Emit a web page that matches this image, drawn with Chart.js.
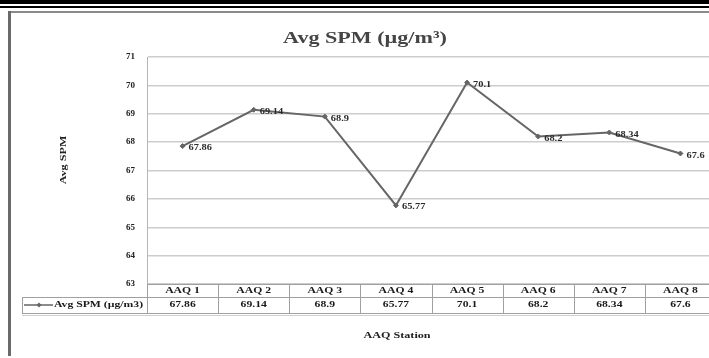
<!DOCTYPE html>
<html>
<head>
<meta charset="utf-8">
<script src="https://cdn.jsdelivr.net/npm/chart.js@4/dist/chart.umd.min.js"></script>
<style>
html,body{margin:0;padding:0;background:#fff;}
body{width:709px;height:358px;overflow:hidden;position:relative;}
#wrap{position:absolute;left:0;top:0;width:730px;height:358px;}
.bar{position:absolute;left:0;width:709px;background:#000;}
#frameTop{position:absolute;left:8px;top:11px;width:701px;height:2px;background:#8a8a8a;}
#frameLeft{position:absolute;left:8px;top:11px;width:3px;height:345px;background:#6a6a6a;}
</style>
</head>
<body>
<div id="wrap"><canvas id="c" width="730" height="358"></canvas></div>
<div class="bar" style="top:0;height:4px;"></div>
<div class="bar" style="top:6px;height:2px;"></div>
<div id="frameTop"></div>
<div id="frameLeft"></div>
<script>
const categories = ["AAQ 1","AAQ 2","AAQ 3","AAQ 4","AAQ 5","AAQ 6","AAQ 7","AAQ 8"];
const spmValues = [67.86, 69.14, 68.9, 65.77, 70.1, 68.2, 68.34, 67.6];
const valueLabels = ["67.86","69.14","68.9","65.77","70.1","68.2","68.34","67.6"];
const seriesName = "Avg SPM (\u00b5g/m3)";
const chartTitle = "Avg SPM (\u00b5g/m\u00b3)";
const yTitle = "Avg SPM";
const xTitle = "AAQ Station";
const yMin = 63, yMax = 71, yStep = 1;

const SERIF = "'Liberation Serif','DejaVu Serif',serif";

function stretchText(ctx, text, x, y, sx, align) {
  ctx.save();
  ctx.translate(x, y);
  ctx.scale(sx, 1);
  ctx.textAlign = align;
  ctx.fillText(text, 0, 0);
  ctx.restore();
}

const tablePlugin = {
  id: 'tablePlugin',
  afterDraw(chart) {
    const ctx = chart.ctx;
    const xs = chart.scales.x;
    const ca = chart.chartArea;
    const n = categories.length;
    const colW = (ca.right - ca.left) / n;
    const row1Top = ca.bottom, row1Bot = ca.bottom + 13, row2Bot = ca.bottom + 29;
    const legLeft = 22;
    ctx.save();
    ctx.textBaseline = 'middle';
    // title
    ctx.fillStyle = '#454545';
    ctx.font = "bold 17px " + SERIF;
    stretchText(ctx, chartTitle, 365, 39, 1.3, 'center');
    // y title
    ctx.save();
    ctx.translate(64, 160);
    ctx.rotate(-Math.PI / 2);
    ctx.font = "bold 9px " + SERIF;
    ctx.fillStyle = '#222';
    stretchText(ctx, yTitle, 0, 0, 1.35, 'center');
    ctx.restore();
    // x title
    ctx.font = "bold 9px " + SERIF;
    ctx.fillStyle = '#222';
    stretchText(ctx, xTitle, 397, 336, 1.35, 'center');
    // table lines
    ctx.strokeStyle = '#a0a0a0';
    ctx.lineWidth = 1;
    ctx.beginPath();
    ctx.moveTo(ca.left, row1Top + 0.5); ctx.lineTo(ca.right, row1Top + 0.5);
    ctx.moveTo(legLeft, row1Bot + 0.5); ctx.lineTo(ca.right, row1Bot + 0.5);
    ctx.moveTo(legLeft, row2Bot + 0.5); ctx.lineTo(ca.right, row2Bot + 0.5);
    ctx.moveTo(legLeft + 0.5, row1Bot); ctx.lineTo(legLeft + 0.5, row2Bot);
    for (let i = 0; i <= n; i++) {
      const x = Math.round(ca.left + i * colW) + 0.5;
      ctx.moveTo(x, row1Top); ctx.lineTo(x, row2Bot);
    }
    ctx.stroke();
    ctx.strokeStyle = '#cfcfcf';
    ctx.beginPath();
    ctx.moveTo(legLeft, row2Bot + 2.5); ctx.lineTo(ca.right, row2Bot + 2.5);
    ctx.stroke();
    // table text
    ctx.fillStyle = '#1a1a1a';
    ctx.font = "bold 9px " + SERIF;
    for (let i = 0; i < n; i++) {
      const cx = xs.getPixelForValue(i);
      stretchText(ctx, categories[i], cx, row1Top + 7, 1.3, 'center');
      stretchText(ctx, valueLabels[i], cx, row1Bot + 8, 1.3, 'center');
    }
    // legend key
    ctx.strokeStyle = '#666';
    ctx.lineWidth = 1.5;
    ctx.beginPath();
    ctx.moveTo(24, row1Bot + 8); ctx.lineTo(53, row1Bot + 8);
    ctx.stroke();
    ctx.fillStyle = '#666';
    ctx.beginPath();
    const kx = 39, ky = row1Bot + 8;
    ctx.moveTo(kx, ky - 2.5); ctx.lineTo(kx + 2.5, ky); ctx.lineTo(kx, ky + 2.5); ctx.lineTo(kx - 2.5, ky); ctx.closePath();
    ctx.fill();
    ctx.fillStyle = '#1a1a1a';
    ctx.font = "bold 9px " + SERIF;
    stretchText(ctx, seriesName, 54, row1Bot + 8, 1.3, 'left');
    // data labels
    const meta = chart.getDatasetMeta(0);
    ctx.font = "bold 8px " + SERIF;
    ctx.fillStyle = '#2a2a2a';
    meta.data.forEach((pt, i) => {
      stretchText(ctx, valueLabels[i], pt.x + 6, pt.y + 2, 1.3, 'left');
    });
    ctx.restore();
  }
};

new Chart(document.getElementById('c'), {
  type: 'line',
  data: {
    labels: categories,
    datasets: [{
      label: seriesName,
      data: spmValues,
      borderColor: '#666',
      backgroundColor: '#666',
      borderWidth: 2,
      pointStyle: 'rectRot',
      pointRadius: 2.5,
      pointBorderWidth: 1,
      tension: 0
    }]
  },
  options: {
    responsive: false,
    animation: false,
    layout: { padding: { left: 0, right: 14, top: 57, bottom: 0 } },
    plugins: { legend: { display: false }, title: { display: false }, tooltip: { enabled: false } },
    scales: {
      x: {
        type: 'category',
        offset: true,
        grid: { display: false, drawTicks: false },
        border: { display: false },
        ticks: { display: false },
        afterFit(scale) { scale.height = 74; }
      },
      y: {
        min: yMin, max: yMax,
        ticks: {
          stepSize: yStep,
          padding: 12,
          color: '#222',
          font: { family: SERIF, size: 9, weight: 'bold' }
        },
        grid: { color: '#cdcdcd', lineWidth: 1.5, drawTicks: false },
        border: { display: true, color: '#b5b5b5', width: 1 },
        afterFit(scale) { scale.width = 147; }
      }
    }
  },
  plugins: [tablePlugin]
});
</script>
</body>
</html>
